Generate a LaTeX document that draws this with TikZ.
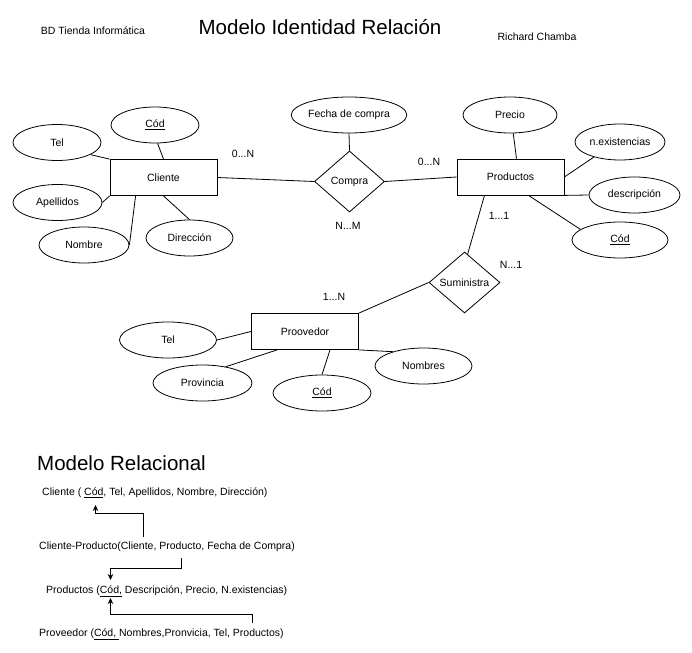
\documentclass[tikz,border=0pt]{standalone}
\usepackage{fontspec}
\setmainfont{Liberation Sans}
\usetikzlibrary{shapes.geometric,arrows.meta,calc}
\tikzset{
  lw/.style={line width=0.8pt},
  ent/.style={draw,lw,rectangle,minimum width=107pt,minimum height=36pt,inner sep=0pt,font=\fontsize{10.5}{12}\selectfont},
  attr/.style={draw,lw,ellipse,inner sep=0pt,minimum height=36pt,font=\fontsize{10.5}{12}\selectfont},
  rel/.style={draw,lw,diamond,inner sep=0pt,minimum width=70pt,minimum height=61pt,font=\fontsize{10.5}{12}\selectfont},
  lbl/.style={font=\fontsize{10.5}{12}\selectfont,inner sep=0pt},
  rtxt/.style={font=\fontsize{10.5}{12}\selectfont,inner sep=0pt,anchor=west},
  ttl/.style={font=\fontsize{20.5}{24}\selectfont,inner sep=0pt},
  conn/.style={lw},
  arr/.style={lw,-{Stealth[length=6pt,width=5.5pt]}}
}
\begin{document}
\begin{tikzpicture}[x=1pt,y=-1pt]
\useasboundingbox (0,0) rectangle (692,652);
% titles
\node[lbl] (bd) at (93,31) {BD Tienda Informática};
\node[ttl] (title) at (320,27) {Modelo Identidad Relación};
\node[lbl] (author) at (537,37) {Richard Chamba};
% entities
\node[ent] (cliente) at (163.5,177.5) {Cliente};
\node[ent] (productos) at (510.5,177) {Productos};
\node[ent] (proovedor) at (305,331.5) {Proovedor};
% relations
\node[rel] (compra) at (349.5,181.5) {Compra};
\node[rel,minimum width=71pt] (suministra) at (464.5,282.5) {Suministra};
% attributes of Cliente
\node[attr,minimum width=88pt] (cod1) at (155,125) {\underline{Cód}};
\node[attr,minimum width=88pt] (tel1) at (57,142.5) {Tel};
\node[attr,minimum width=89pt] (apellidos) at (57.5,202.5) {Apellidos};
\node[attr,minimum width=90pt] (nombre) at (84,245) {Nombre};
\node[attr,minimum width=87pt] (direccion) at (189.5,238) {Dirección};
% attribute of Compra
\node[attr,minimum width=110pt] (fecha) at (349,115) {Fecha de compra};
% attributes of Productos
\node[attr,minimum width=94pt] (precio) at (510,115) {Precio};
\node[attr,minimum width=90pt] (nex) at (620,142) {n.existencias};
\node[attr,minimum width=91pt] (descripcion) at (634.5,195) {descripción};
\node[attr,minimum width=96pt] (cod2) at (620,240) {\underline{Cód}};
% attributes of Proovedor
\node[attr,minimum width=97pt] (tel2) at (168,340) {Tel};
\node[attr,minimum width=99pt] (provincia) at (202.5,383) {Provincia};
\node[attr,minimum width=98pt] (cod3) at (322,393) {\underline{Cód}};
\node[attr,minimum width=97pt] (nombres) at (423.5,366) {Nombres};
% cardinalities
\node[lbl] (c1) at (243,154) {0...N};
\node[lbl] (c2) at (429,162) {0...N};
\node[lbl] (c3) at (348,226) {N...M};
\node[lbl] (c4) at (499,216) {1...1};
\node[lbl] (c5) at (511,265) {N...1};
\node[lbl] (c6) at (334,297) {1...N};
% connectors Cliente
\draw[conn] (tel1.-20) -- (cliente.north west);
\draw[conn] (cod1.-82) -- (cliente.north);
\draw[conn] (apellidos.east) -- (cliente.south west);
\draw[conn] (nombre.east) -- ($(cliente.south west)+(26,0)$);
\draw[conn] (direccion.north) -- (cliente.south);
% Compra
\draw[conn] (cliente.east) -- (compra.west);
\draw[conn] (fecha.south) -- (compra.north);
\draw[conn] (compra.east) -- (productos.west);
% Productos
\draw[conn] (precio.-80) -- ($(productos.north)+(6,0)$);
\draw[conn] (nex.-150) -- (productos.east);
\draw[conn] (descripcion.west) -- (productos.south east);
\draw[conn] (cod2.165) -- ($(productos.south)+(18,0)$);
\draw[conn] ($(productos.south)+(-26,0)$) -- ($(suministra.north)+(3,3)$);
% Proovedor
\draw[conn] (suministra.west) -- (proovedor.north east);
\draw[conn] (tel2.east) -- (proovedor.west);
\draw[conn] (provincia.35) -- ($(proovedor.south west)+(26,0)$);
\draw[conn] (cod3.north) -- ($(proovedor.south)+(25,0)$);
\draw[conn] (nombres.155) -- (proovedor.south east);
% Relational model
\node[ttl,anchor=west] (mr) at (37,463) {Modelo Relacional};
\node[rtxt] (r1) at (42,493) {Cliente ( \underline{Cód}, Tel, Apellidos, Nombre, Dirección)};
\node[rtxt] (r2) at (39,547) {Cliente-Producto(Cliente, Producto, Fecha de Compra)};
\node[rtxt] (r3) at (46,591.5) {Productos (\underline{Cód,} Descripción, Precio, N.existencias)};
\node[rtxt] (r4) at (39,634) {Proveedor (\underline{Cód,\ }Nombres,Pronvicia, Tel, Productos)};
\coordinate (a1s) at (143.5,537);
\coordinate (a1e) at (95.5,505);
\coordinate (a2s) at (181.5,558);
\coordinate (a2e) at (110.5,580);
\coordinate (a3s) at (252.5,623);
\coordinate (a3e) at (110.5,598);
\draw[arr] (a1s) -- ++(0,-24) -| (a1e);
\draw[arr] (a2s) -- ++(0,10) -| (a2e);
\draw[arr] (a3s) -- ++(0,-9) -| (a3e);
\end{tikzpicture}
\end{document}
